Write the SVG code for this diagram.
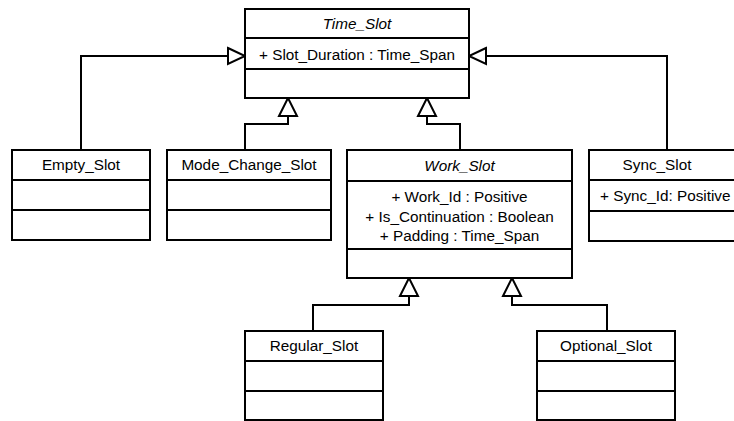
<svg xmlns="http://www.w3.org/2000/svg" width="734" height="421" viewBox="0 0 734 421">
  <style>
    .box { fill: #ffffff; stroke: #000000; stroke-width: 2; }
    .sep { stroke: #000000; stroke-width: 2; }
    .wire { fill: none; stroke: #000000; stroke-width: 2; }
    .head { fill: #ffffff; stroke: #000000; stroke-width: 2; stroke-linejoin: miter; }
    text { font-family: "Liberation Sans", Arial, sans-serif; font-size: 15.3px; fill: #000000; }
    .c { text-anchor: middle; }
    .abs { font-style: italic; }
  </style>
  <rect width="734" height="421" fill="#ffffff"/>

  <!-- generalization connectors -->
  <g id="connectors">
    <polyline class="wire" points="81,150 81,56 228,56"/>
    <polygon class="head" points="228,48 245,56 228,64"/>
    <polyline class="wire" points="667,150 667,56 486,56"/>
    <polygon class="head" points="486,48 469,56 486,64"/>
    <polyline class="wire" points="245,150 245,124 288,124 288,116"/>
    <polygon class="head" points="279,116 288,98 297,116"/>
    <polyline class="wire" points="460,150 460,124 427,124 427,116"/>
    <polygon class="head" points="418,116 427,98 436,116"/>
    <polyline class="wire" points="313,331 313,305 409,305 409,296"/>
    <polygon class="head" points="400,296 409,278 418,296"/>
    <polyline class="wire" points="607,331 607,305 512,305 512,296"/>
    <polygon class="head" points="503,296 512,278 521,296"/>
  </g>

  <g id="time_slot">
    <rect class="box" x="245" y="9" width="224" height="89"/>
    <line class="sep" x1="245" y1="38" x2="469" y2="38"/>
    <line class="sep" x1="245" y1="69" x2="469" y2="69"/>
    <text class="c abs" x="357" y="29">Time_Slot</text>
    <text class="c" x="357" y="60">+ Slot_Duration : Time_Span</text>
  </g>

  <g id="empty_slot">
    <rect class="box" x="12" y="150" width="138" height="90"/>
    <line class="sep" x1="12" y1="180" x2="150" y2="180"/>
    <line class="sep" x1="12" y1="210" x2="150" y2="210"/>
    <text class="c" x="81" y="170">Empty_Slot</text>
  </g>

  <g id="mode_change_slot">
    <rect class="box" x="167" y="150" width="164" height="90"/>
    <line class="sep" x1="167" y1="180" x2="331" y2="180"/>
    <line class="sep" x1="167" y1="210" x2="331" y2="210"/>
    <text class="c" x="249" y="170">Mode_Change_Slot</text>
  </g>

  <g id="work_slot">
    <rect class="box" x="347" y="150" width="225" height="128"/>
    <line class="sep" x1="347" y1="181" x2="572" y2="181"/>
    <line class="sep" x1="347" y1="249" x2="572" y2="249"/>
    <text class="c abs" x="459.5" y="171">Work_Slot</text>
    <text class="c" x="459.5" y="201.5">+ Work_Id : Positive</text>
    <text class="c" x="459.5" y="221.5">+ Is_Continuation : Boolean</text>
    <text class="c" x="459.5" y="241">+ Padding : Time_Span</text>
  </g>

  <g id="sync_slot">
    <rect class="box" x="589" y="150" width="160" height="91"/>
    <line class="sep" x1="589" y1="180" x2="749" y2="180"/>
    <line class="sep" x1="589" y1="211" x2="749" y2="211"/>
    <text class="c" x="657" y="170">Sync_Slot</text>
    <text x="600" y="201">+ Sync_Id: Positive</text>
  </g>

  <g id="regular_slot">
    <rect class="box" x="245" y="331" width="138" height="89"/>
    <line class="sep" x1="245" y1="361" x2="383" y2="361"/>
    <line class="sep" x1="245" y1="391" x2="383" y2="391"/>
    <text class="c" x="314" y="351">Regular_Slot</text>
  </g>

  <g id="optional_slot">
    <rect class="box" x="537" y="331" width="138" height="89"/>
    <line class="sep" x1="537" y1="361" x2="675" y2="361"/>
    <line class="sep" x1="537" y1="391" x2="675" y2="391"/>
    <text class="c" x="606" y="351">Optional_Slot</text>
  </g>
</svg>
